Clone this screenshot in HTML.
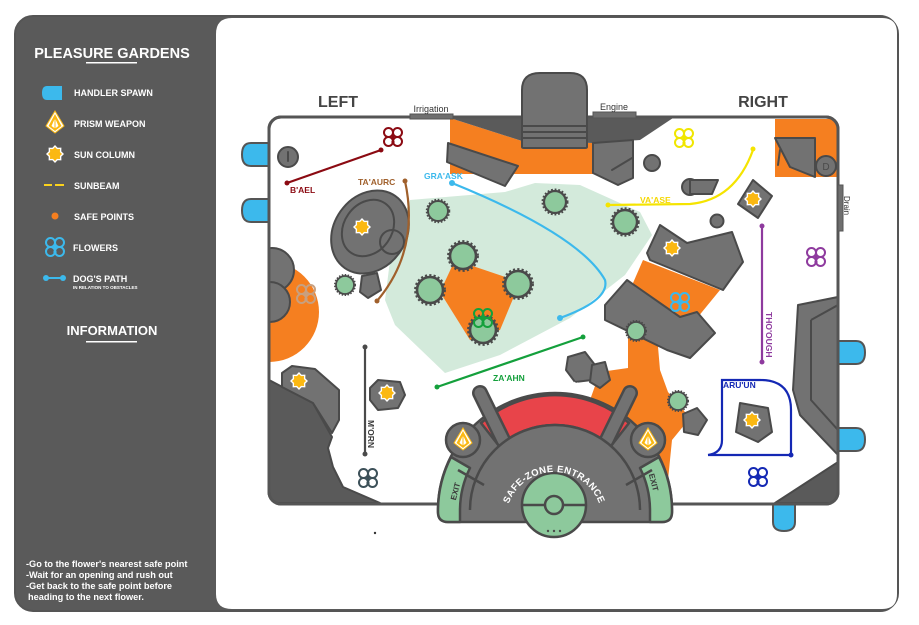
<!DOCTYPE html>
<html><head><meta charset="utf-8"><style>
html,body{margin:0;padding:0;background:#fff;}
svg{display:block;font-family:"Liberation Sans",sans-serif;}
</style></head><body>
<svg width="919" height="625" viewBox="0 0 919 625" xmlns="http://www.w3.org/2000/svg">
<defs>
<clipPath id="mapclip"><rect x="270" y="118" width="567" height="385" rx="11"/></clipPath>
<g id="tree"><circle r="10" fill="#8dc99c" stroke="#4a4a4a" stroke-width="2"/><circle r="11" fill="none" stroke="#4a4a4a" stroke-width="2.5" stroke-dasharray="1.6 1.6"/></g>
<g id="sun"><polygon points="0,-9 2.6,-6.3 6.4,-6.4 6.3,-2.6 9,0 6.3,2.6 6.4,6.4 2.6,6.3 0,9 -2.6,6.3 -6.4,6.4 -6.3,2.6 -9,0 -6.3,-2.6 -6.4,-6.4 -2.6,-6.3" fill="#fff"/><polygon points="0,-7 2,-4.9 5,-5 4.9,-2 7,0 4.9,2 5,5 2,4.9 0,7 -2,4.9 -5,5 -4.9,2 -7,0 -4.9,-2 -5,-5 -2,-4.9" fill="#fbb812"/></g>
<g id="flower" fill="none" stroke-width="2"><circle cx="-4.5" cy="-4.5" r="4.5"/><circle cx="4.5" cy="-4.5" r="4.5"/><circle cx="-4.5" cy="4.5" r="4.5"/><circle cx="4.5" cy="4.5" r="4.5"/><line x1="0" y1="-4" x2="0" y2="2"/><circle cx="0" cy="5" r="0.6"/></g>
<g id="prism"><polygon points="0,-12 9,3 0,10 -9,3" fill="#fff" stroke="#fbb812" stroke-width="1"/><polygon points="0,-9 6.5,3 0,8 -6.5,3" fill="#fbb812"/><polygon points="0,-5 3.5,3 0,5.5 -3.5,3" fill="#fff"/><line x1="0" y1="-5" x2="0" y2="5.5" stroke="#fbb812"/></g>
</defs>
<rect x="15" y="16" width="883" height="595" rx="18" fill="#5a5a5a" stroke="#555" stroke-width="2"/>
<path d="M232,18 H882 Q897,18 897,33 V594 Q897,609 882,609 H232 Q216,609 216,594 V34 Q216,18 232,18 Z" fill="#fff"/>
<g fill="#fff" font-weight="bold">
<text x="112" y="58" font-size="14.5" text-anchor="middle">PLEASURE GARDENS</text>
<rect x="86" y="62" width="51" height="1.5"/>
<text x="74" y="96" font-size="9">HANDLER SPAWN</text>
<text x="74" y="127" font-size="9">PRISM WEAPON</text>
<text x="74" y="158" font-size="9">SUN COLUMN</text>
<text x="74" y="189" font-size="9">SUNBEAM</text>
<text x="74" y="220" font-size="9">SAFE POINTS</text>
<text x="73" y="251" font-size="9">FLOWERS</text>
<text x="73" y="282" font-size="9">DOG'S PATH</text>
<text x="73" y="289" font-size="4.5">IN RELATION TO OBSTACLES</text>
<text x="112" y="335" font-size="13" text-anchor="middle">INFORMATION</text>
<rect x="86" y="341" width="51" height="1.5"/>
<g font-size="9.2"><text x="26" y="567">-Go to the flower's nearest safe point</text>
<text x="26" y="578">-Wait for an opening and rush out</text>
<text x="26" y="589">-Get back to the safe point before</text>
<text x="28" y="600">heading to the next flower.</text></g>
</g>
<path d="M47,86 H62 V100 H47 Q42,100 42,93 Q42,86 47,86Z" fill="#3cb9ec"/>
<use href="#prism" x="55" y="123"/>
<use href="#sun" x="55" y="154"/>
<rect x="44" y="184" width="8" height="2" fill="#fbd21c"/><rect x="55" y="184" width="9" height="2" fill="#fbd21c"/>
<circle cx="55" cy="216" r="3.5" fill="#f57f20"/>
<use href="#flower" x="55" y="247" stroke="#3cb9ec"/>
<line x1="46" y1="278" x2="63" y2="278" stroke="#3cb9ec" stroke-width="2"/><circle cx="46" cy="278" r="3" fill="#3cb9ec"/><circle cx="63" cy="278" r="3" fill="#3cb9ec"/>

<text x="338" y="107" font-size="16" font-weight="bold" fill="#444" text-anchor="middle">LEFT</text>
<text x="763" y="107" font-size="16" font-weight="bold" fill="#444" text-anchor="middle">RIGHT</text>
<text x="431" y="112" font-size="9" fill="#333" text-anchor="middle">Irrigation</text>
<text x="614" y="110" font-size="9" fill="#333" text-anchor="middle">Engine</text>

<g fill="#3cb9ec" stroke="#555" stroke-width="2">
<path d="M270,143 H251 Q242,143 242,154.5 Q242,166 251,166 H270Z"/>
<path d="M270,199 H251 Q242,199 242,210.5 Q242,222 251,222 H270Z"/>
<path d="M837,341 H856 Q865,341 865,352.5 Q865,364 856,364 H837Z"/>
<path d="M837,428 H856 Q865,428 865,439.5 Q865,451 856,451 H837Z"/>
<path d="M773,503 V522 Q773,531 784,531 Q795,531 795,522 V503Z"/>
</g>

<rect x="269" y="117" width="569" height="387" rx="12" fill="#fff" stroke="#555" stroke-width="3"/>
<g clip-path="url(#mapclip)">
<path d="M410,200 L505,192 L535,183 L580,185 L640,212 L652,235 L625,275 L570,318 L500,355 L445,373 L395,325 L385,300 L392,245 Z" fill="#d3eadb"/>
<path d="M450,118 L522,141 L593,143 L593,174 L450,174Z" fill="#f57f20"/>
<path d="M775,119 H838 V177 H775Z" fill="#f57f20"/>
<path d="M643,260 L720,290 L693,323 L660,327 L633,283Z" fill="#f57f20"/>
<path d="M628,330 L657,335 L660,370 L668,392 L690,418 L672,440 L668,480 L600,480 L590,400 L600,372 L628,368Z" fill="#f57f20"/>
<path d="M269,262 A50,50 0 0 1 269,362Z" fill="#f57f20"/>
<path d="M455,260 L520,282 L500,330 L470,340 L440,292Z" fill="#f57f20"/>
<path d="M450,118 L673,118 L640,140 L593,143 L522,141Z" fill="#5a5a5a"/>
<g fill="#727272" stroke="#4a4a4a" stroke-width="2" stroke-linejoin="round">
<circle cx="272" cy="270" r="22"/><circle cx="270" cy="302" r="20"/>
<path d="M798,305 L838,297 L838,455 L800,415 L793,390Z"/>
<path d="M775,503 L838,462 L838,503Z" fill="#5a5a5a"/>
<path d="M269,380 L313,403 L332,437 L328,448 L333,467 L343,487 L380,503 L269,503Z" fill="#5a5a5a"/>
<path d="M282,373 L292,366 L315,369 L339,390 L339,420 L332,433 L313,403 L282,387Z"/>
<path d="M811,320 L838,305 M811,320 V400 L838,430" fill="none"/>
</g>
</g>
<rect x="269" y="117" width="569" height="387" rx="12" fill="none" stroke="#555" stroke-width="3"/>
<rect x="410" y="114" width="43" height="5" fill="#6f6f6f" stroke="#555"/>
<rect x="593" y="112" width="43" height="6" fill="#6f6f6f" stroke="#555"/>
<rect x="838" y="185" width="5" height="46" fill="#6f6f6f" stroke="#555"/>
<text transform="translate(844,196) rotate(90)" font-size="8" fill="#333">Drain</text>
<g fill="#727272" stroke="#4a4a4a" stroke-width="2" stroke-linejoin="round">
<path d="M522,147 V90 Q522,73 540,73 H570 Q587,73 587,90 V147 Q587,148 585,148 H524 Q522,148 522,147Z"/>
<line x1="522" y1="126" x2="587" y2="126"/><line x1="522" y1="132" x2="587" y2="132"/><line x1="522" y1="138" x2="587" y2="138"/>
<path d="M448,143 L518,166 L505,186 L447,162Z"/>
<path d="M593,143 L633,140 L633,178 L618,185 L593,173Z"/>
<path d="M775,138 L815,138 L815,177 L790,167Z"/>
<circle cx="826" cy="166" r="10"/>
<circle cx="288" cy="157" r="10"/>
<circle cx="652" cy="163" r="8"/>
<circle cx="690" cy="187" r="8"/><path d="M690,180 H718 L712,194 H690Z"/>
<circle cx="717" cy="221" r="6.5"/>
<path d="M753,180 L772,196 L758,218 L738,204Z"/>
<ellipse cx="370" cy="232" rx="36" ry="44" transform="rotate(35 370 232)"/>
<circle cx="392" cy="242" r="12"/>
<path d="M362,276 L377,273 L381,290 L368,298 L360,292Z"/>
<path d="M647,253 L660,225 L687,243 L732,232 L743,262 L723,290 L650,260Z"/>
<path d="M605,305 L627,280 L680,317 L697,312 L715,333 L690,358 L667,350 L605,320Z"/>
<path d="M568,357 L585,352 L595,365 L592,380 L575,382 L566,370Z"/>
<path d="M592,365 L605,362 L610,380 L600,388 L590,382Z"/>
<path d="M683,414 L697,408 L707,420 L698,435 L684,432Z"/>
<path d="M370,388 L378,380 L400,382 L405,395 L398,408 L378,410 L370,400Z"/>
<path d="M740,403 L768,408 L772,432 L758,442 L736,432Z"/>
</g>
<g fill="none" stroke="#4a4a4a" stroke-width="2" stroke-linecap="round">
<line x1="288" y1="152" x2="288" y2="161"/>
<ellipse cx="368" cy="228" rx="24" ry="30" transform="rotate(35 368 228)"/>
<line x1="778" y1="165" x2="780" y2="150"/>
<line x1="612" y1="170" x2="632" y2="158"/>
</g>
<text x="826" y="170" font-size="10" fill="#4a4a4a" text-anchor="middle">D</text>
<use href="#tree" transform="translate(438,211)"/>
<use href="#tree" transform="translate(555,202) scale(1.1)"/>
<use href="#tree" transform="translate(625,222) scale(1.2)"/>
<use href="#tree" transform="translate(463,256) scale(1.3)"/>
<use href="#tree" transform="translate(518,284) scale(1.3)"/>
<use href="#tree" transform="translate(430,290) scale(1.3)"/>
<use href="#tree" transform="translate(483,330) scale(1.3)"/>
<use href="#tree" transform="translate(345,285) scale(0.9)"/>
<use href="#tree" transform="translate(636,331) scale(0.9)"/>
<use href="#tree" transform="translate(678,401) scale(0.9)"/>
<use href="#sun" x="362" y="227"/><use href="#sun" x="672" y="248"/><use href="#sun" x="299" y="381"/>
<use href="#sun" x="387" y="393"/><use href="#sun" x="753" y="199"/><use href="#sun" x="752" y="420"/>
<use href="#flower" x="393" y="137" stroke="#8b0a12"/>
<use href="#flower" x="306" y="294" stroke="#c8a080"/>
<use href="#flower" x="684" y="138" stroke="#f0e600"/>
<use href="#flower" x="816" y="257" stroke="#8e3a9e"/>
<use href="#flower" x="680" y="302" stroke="#3cb9ec"/>
<use href="#flower" x="483" y="318" stroke="#14a03c"/>
<use href="#flower" x="368" y="478" stroke="#3c5058"/>
<use href="#flower" x="758" y="477" stroke="#1428b4"/>
<g fill="none" stroke-width="2.2">
<line x1="287" y1="183" x2="381" y2="150" stroke="#8b0a12"/>
<path d="M405,181 Q420,250 377,301" stroke="#a0602c"/>
<path d="M452,183 Q580,235 605,280 Q610,300 560,318" stroke="#3cb9ec"/>
<path d="M608,205 L690,204 Q735,200 753,150" stroke="#f5e400"/>
<line x1="762" y1="226" x2="762" y2="362" stroke="#8e3a9e"/>
<line x1="437" y1="387" x2="583" y2="337" stroke="#14a03c"/>
<line x1="365" y1="347" x2="365" y2="454" stroke="#4a4a4a"/>
<path d="M708,455 H791 V410 Q791,380 760,380 H722 V440 Q722,453 708,455" stroke="#1428b4"/>
</g>
<g>
<circle cx="287" cy="183" r="2.5" fill="#8b0a12"/><circle cx="381" cy="150" r="2.5" fill="#8b0a12"/>
<circle cx="405" cy="181" r="2.5" fill="#a0602c"/><circle cx="377" cy="301" r="2.5" fill="#a0602c"/>
<circle cx="452" cy="183" r="3" fill="#3cb9ec"/><circle cx="560" cy="318" r="3" fill="#3cb9ec"/>
<circle cx="608" cy="205" r="2.5" fill="#f5e400"/><circle cx="753" cy="149" r="2.5" fill="#f5e400"/>
<circle cx="762" cy="226" r="2.5" fill="#8e3a9e"/><circle cx="762" cy="362" r="2.5" fill="#8e3a9e"/>
<circle cx="437" cy="387" r="2.5" fill="#14a03c"/><circle cx="583" cy="337" r="2.5" fill="#14a03c"/>
<circle cx="365" cy="347" r="2.5" fill="#4a4a4a"/><circle cx="365" cy="454" r="2.5" fill="#4a4a4a"/>
<circle cx="791" cy="455" r="2.5" fill="#1428b4"/>
</g>
<g font-size="8.5" font-weight="bold">
<text x="290" y="193" fill="#8b0a12">B'AEL</text>
<text x="358" y="185" fill="#a0602c">TA'AURC</text>
<text x="424" y="179" fill="#3cb9ec">GRA'ASK</text>
<text x="640" y="203" fill="#f5d800">VA'ASE</text>
<text x="493" y="381" fill="#14a03c">ZA'AHN</text>
<text x="723" y="388" fill="#1428b4">ARU'UN</text>
<text transform="translate(766,312) rotate(90)" fill="#8e3a9e">THO'OUGH</text>
<text transform="translate(368,420) rotate(90)" fill="#3a3a3a">M'ORN</text>
</g>
<circle cx="375" cy="533" r="1.2" fill="#333"/>

<g stroke="#4a4a4a" stroke-width="2.5" stroke-linejoin="round">
<path d="M438,510 A117,117 0 0 1 672,510 V512 Q672,522 662,522 H448 Q438,522 438,512Z" fill="#727272"/>
<path d="M481,423 A112,112 0 0 1 629,423 L611,446 A85,85 0 0 0 499,446Z" fill="#e8444a"/>
<path d="M438,510 A117,117 0 0 1 451,457 L470,468 A95,95 0 0 0 460,510 V522 H448 Q438,522 438,512Z" fill="#8dc99c"/>
<path d="M672,510 A117,117 0 0 0 659,457 L640,468 A95,95 0 0 1 650,510 V522 H662 Q672,522 672,512Z" fill="#8dc99c"/>
<circle cx="463" cy="440" r="17" fill="#727272"/>
<circle cx="648" cy="440" r="17" fill="#727272"/>
<line x1="480" y1="393" x2="503" y2="440" stroke-width="16" stroke-linecap="round"/>
<line x1="480" y1="393" x2="503" y2="440" stroke-width="11" stroke-linecap="round" stroke="#727272"/>
<line x1="630" y1="393" x2="607" y2="440" stroke-width="16" stroke-linecap="round"/>
<line x1="630" y1="393" x2="607" y2="440" stroke-width="11" stroke-linecap="round" stroke="#727272"/>
<path d="M470,510 A85,85 0 0 1 640,510" fill="#727272"/>
<line x1="458" y1="470" x2="484" y2="485" fill="none"/><line x1="652" y1="470" x2="626" y2="485" fill="none"/>
<circle cx="554" cy="505" r="32" fill="#8dc99c"/>
<line x1="522" y1="505" x2="586" y2="505"/>
<circle cx="554" cy="505" r="9" fill="#8dc99c"/>
</g>
<circle cx="548" cy="531" r="1.2" fill="#4a4a4a"/><circle cx="554" cy="531" r="1.2" fill="#4a4a4a"/><circle cx="560" cy="531" r="1.2" fill="#4a4a4a"/>
<use href="#prism" x="463" y="440"/><use href="#prism" x="648" y="440"/>
<path id="dp" d="M497,415 A75,75 0 0 1 615,415" fill="none"/>
<path id="sz2" d="M506,520 A48,48 0 1 1 602,520" fill="none"/>
<text font-size="9.5" font-weight="bold" fill="#fff" text-anchor="middle"><textPath href="#dp" startOffset="50%">DEATH PIT</textPath></text>
<text font-size="9.5" font-weight="bold" fill="#fff" text-anchor="middle" letter-spacing="0.4"><textPath href="#sz2" startOffset="50%">SAFE-ZONE ENTRANCE</textPath></text>
<text transform="translate(458,492) rotate(-75)" font-size="8" font-weight="bold" fill="#3a3a3a" text-anchor="middle">EXIT</text>
<text transform="translate(651,483) rotate(75)" font-size="8" font-weight="bold" fill="#3a3a3a" text-anchor="middle">EXIT</text>
</svg>
</body></html>
